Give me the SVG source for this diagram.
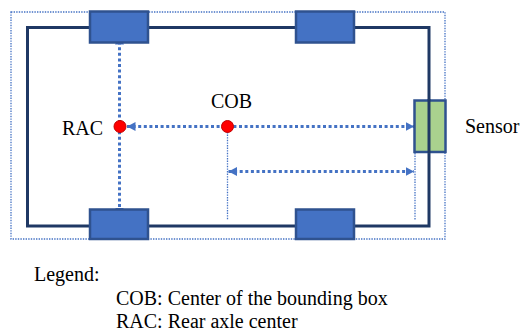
<svg xmlns="http://www.w3.org/2000/svg" width="521" height="334" viewBox="0 0 521 334">
  <style>
    .bbox { fill: none; stroke: #4472C4; stroke-width: 1.3; stroke-dasharray: 1.4 1.2; }
    .body { fill: none; stroke: #1F3864; stroke-width: 3; }
    .wheel { fill: #4472C4; stroke: #2F528F; stroke-width: 2.5; }
    .sensor { fill: #A9D18E; stroke: #2F528F; stroke-width: 2.5; }
    .dim { fill: none; stroke: #4472C4; stroke-width: 3; stroke-dasharray: 3 2.6; }
    .guide { fill: none; stroke: #4472C4; stroke-width: 1.3; stroke-dasharray: 1.4 1.2; }
    .pt { fill: #FF0000; stroke: #C00000; stroke-width: 1; }
    .lbl { font-family: "Times New Roman", "Liberation Serif", serif; font-size: 20px; fill: #000000; }
  </style>
  <defs>
    <marker id="arrow" markerUnits="userSpaceOnUse" markerWidth="9" markerHeight="10" refX="8.5" refY="5" orient="auto-start-reverse">
      <path d="M0,0.5 L8.5,5 L0,9.5 z" fill="#4472C4"/>
    </marker>
  </defs>

  <!-- bounding box outline -->
  <rect class="bbox" x="11" y="12" width="434" height="227"/>

  <!-- dimension and guide lines -->
  <g id="connectors">
    <line class="dim" x1="119.5" y1="36" x2="119.5" y2="216" marker-start="url(#arrow)" marker-end="url(#arrow)"/>
    <line class="dim" x1="127" y1="126.5" x2="414" y2="126.5" marker-start="url(#arrow)" marker-end="url(#arrow)"/>
    <line class="dim" x1="228.5" y1="171.5" x2="414" y2="171.5" marker-start="url(#arrow)" marker-end="url(#arrow)"/>
    <line class="guide" x1="227.5" y1="132" x2="227.5" y2="220"/>
    <line class="guide" x1="415" y1="153" x2="415" y2="220"/>
  </g>

  <!-- vehicle body -->
  <g id="body">
    <rect class="body" x="27.5" y="27.5" width="401.5" height="198.5"/>
  </g>

  <!-- wheels -->
  <g id="wheel-rear-left"><rect class="wheel" x="90" y="11.5" width="58" height="31"/></g>
  <g id="wheel-front-left"><rect class="wheel" x="296" y="11.5" width="58" height="31"/></g>
  <g id="wheel-rear-right"><rect class="wheel" x="90" y="209.5" width="58" height="29.5"/></g>
  <g id="wheel-front-right"><rect class="wheel" x="296" y="209.5" width="58" height="29.5"/></g>

  <!-- sensor -->
  <g id="sensor">
    <rect class="sensor" x="414.5" y="100.5" width="31" height="51.5"/>
    <line x1="429" y1="99" x2="429" y2="153" stroke="#1F3864" stroke-width="3"/>
    <text class="lbl" x="465" y="133">Sensor</text>
  </g>

  <!-- reference points -->
  <g id="rac">
    <circle class="pt" cx="120" cy="126.5" r="6"/>
    <text class="lbl" x="62" y="135">RAC</text>
  </g>
  <g id="cob">
    <circle class="pt" cx="227.5" cy="126.5" r="6"/>
    <text class="lbl" x="211" y="108">COB</text>
  </g>

  <!-- legend -->
  <g id="legend">
    <text class="lbl" x="34" y="281">Legend:</text>
    <text class="lbl" x="116" y="305">COB: Center of the bounding box</text>
    <text class="lbl" x="116" y="328">RAC: Rear axle center</text>
  </g>
</svg>
